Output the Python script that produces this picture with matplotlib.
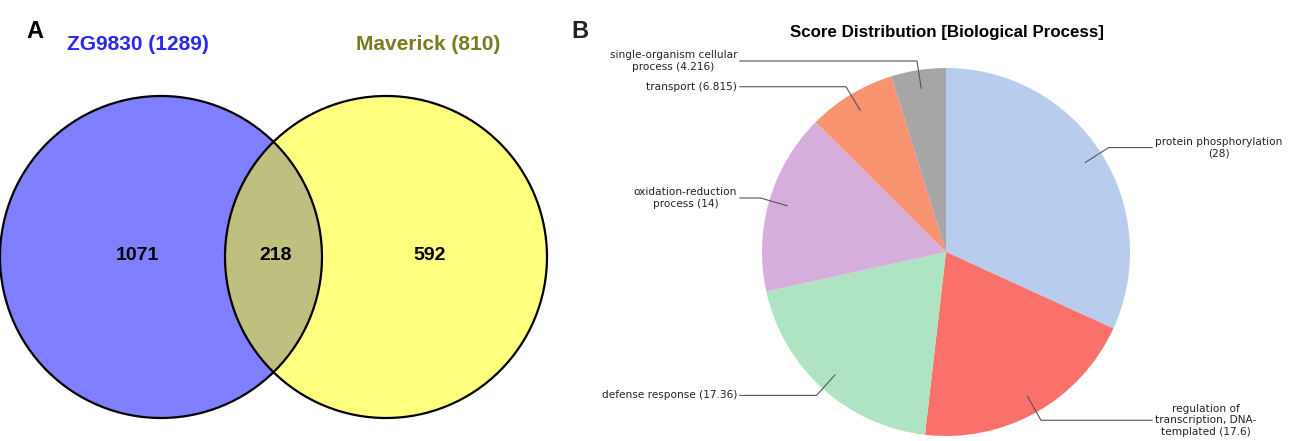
import numpy as np
import matplotlib
matplotlib.use("Agg")
import matplotlib.pyplot as plt
from matplotlib.patches import Circle

# Venn data (panel A)
set_names = ["ZG9830", "Maverick"]
set_sizes = [1289, 810]
region_counts = [1071, 218, 592]  # only left, shared, only right

# Pie data (panel B)
go_terms = [
    "protein phosphorylation",
    "regulation of\ntranscription, DNA-\ntemplated",
    "defense response",
    "oxidation-reduction\nprocess",
    "transport",
    "single-organism cellular\nprocess",
]
go_scores = [28, 17.6, 17.36, 14, 6.815, 4.216]
go_labels = ["28", "17.6", "17.36", "14", "6.815", "4.216"]
# score goes on its own line for the long single-line term
score_sep = ["\n", " ", " ", " ", " ", " "]
pie_colors = ["#B8CCEE", "#FA706A", "#AEE3C3", "#D6AEDC", "#F7946F", "#A6A6A6"]

W, H = 1296, 441
fig = plt.figure(figsize=(W / 100, H / 100), dpi=100)

# ---- Panel A: Venn diagram, drawn in pixel coordinates ----
ax = fig.add_axes([0, 0, 1, 1])
ax.set_xlim(0, W)
ax.set_ylim(H, 0)
ax.axis("off")

c_left = (161, 257)
c_right = (386, 257)
r = 161
ax.add_patch(Circle(c_left, r, facecolor=(0, 0, 1, 0.5), edgecolor="none"))
ax.add_patch(Circle(c_right, r, facecolor=(1, 1, 0, 0.5), edgecolor="none"))
ax.add_patch(Circle(c_left, r, facecolor="none", edgecolor="black", lw=1.6))
ax.add_patch(Circle(c_right, r, facecolor="none", edgecolor="black", lw=1.6))

venn_font = dict(family="Liberation Sans", fontweight="bold")
ax.text(138, 45, f"{set_names[0]} ({set_sizes[0]})", color="#2828F0",
        fontsize=15, ha="center", va="center", **venn_font)
ax.text(428, 45, f"{set_names[1]} ({set_sizes[1]})", color="#7B7B1E",
        fontsize=15, ha="center", va="center", **venn_font)
for x, n in zip([137, 276, 430], region_counts):
    ax.text(x, 256, str(n), fontsize=14, ha="center", va="center", color="black", **venn_font)

ax.text(35, 31, "A", fontsize=17, ha="center", va="center", **venn_font)
ax.text(580, 31, "B", fontsize=17, ha="center", va="center", color="#222222", **venn_font)
ax.text(947, 32, "Score Distribution [Biological Process]", fontsize=12.2,
        ha="center", va="center", **venn_font)

# ---- Panel B: pie chart ----
cx, cy, R = 946, 252, 184
axp = fig.add_axes([(cx - R) / W, (H - cy - R) / H, 2 * R / W, 2 * R / H])
wedges, _ = axp.pie(go_scores, colors=pie_colors, startangle=90, counterclock=False,
                    radius=1, wedgeprops=dict(linewidth=0))
axp.set_xlim(-1, 1)
axp.set_ylim(-1, 1)
axp.set_aspect("auto")
axp.axis("off")

for w, term, lab, sep in zip(wedges, go_terms, go_labels, score_sep):
    ang = np.deg2rad((w.theta1 + w.theta2) / 2)
    x0, y0 = 0.9 * np.cos(ang), 0.9 * np.sin(ang)
    x1, y1 = 1.05 * np.cos(ang), 1.05 * np.sin(ang)
    side = 1 if np.cos(ang) > 0 else -1
    x2 = side * 1.12
    axp.plot([x0, x1, x2], [y0, y1, y1], color="#555555", lw=0.8, clip_on=False)
    axp.text(x2 + side * 0.015, y1, f"{term}{sep}({lab})", fontsize=7.6,
             ha="left" if side > 0 else "right", va="center",
             multialignment="center", color="#222222", clip_on=False,
             family="DejaVu Sans")

fig.savefig("out.png", dpi=100)
